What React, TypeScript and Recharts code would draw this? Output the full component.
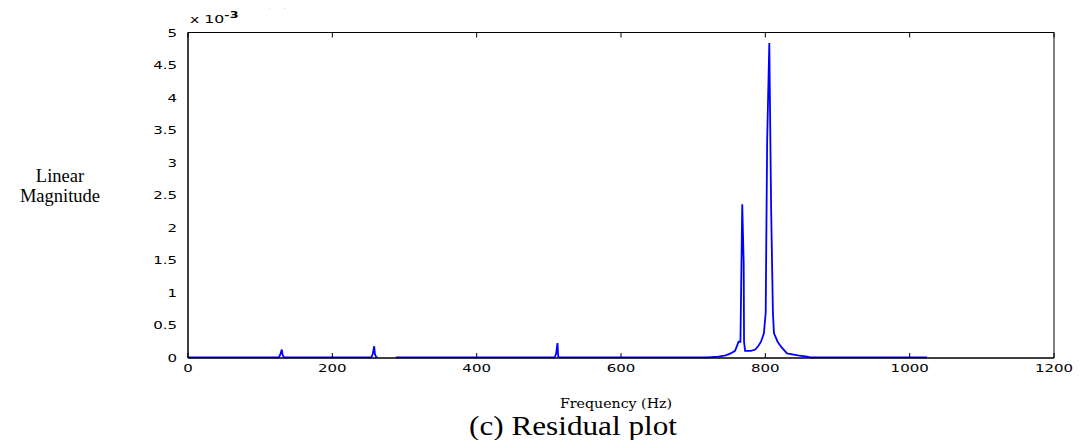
import React from 'react';
import { LineChart, Line, XAxis, YAxis } from 'recharts';

// residual spectrum, magnitude in units of 10^-3
const freqHz = [
  0, 126, 128, 130, 131, 133,
  254, 256, 258, 259, 261, 263, 264,
  287, 288, 508, 510, 512, 513, 515,
  720, 735, 745, 752, 758, 763, 765.5, 768, 770, 770.5, 772,
  780, 786, 790, 794, 798, 800.5, 802.5, 805.5, 808, 810.5,
  812, 817, 822, 830, 845, 858, 862, 1024,
];
const magnitude: (number | null)[] = [
  0.01, 0.01, 0.06, 0.13, 0.05, 0.01,
  0.01, 0.06, 0.18, 0.06, 0.01, 0.01, null,
  null, 0.01, 0.01, 0.06, 0.23, 0.02, 0.01,
  0.01, 0.02, 0.04, 0.07, 0.11, 0.25, 0.25, 2.36, 1.46, 0.25, 0.11,
  0.11, 0.13, 0.18, 0.25, 0.38, 0.69, 3.32, 4.84, 2.32, 0.69,
  0.38, 0.25, 0.17, 0.07, 0.04, 0.02, 0.01, 0.01,
];
const xTicks = [0, 200, 400, 600, 800, 1000, 1200];
const yTicks = [0, 0.5, 1, 1.5, 2, 2.5, 3, 3.5, 4, 4.5, 5];

const data = freqHz.map((hz, i) => ({ hz, mag: magnitude[i] }));

const tickFont = 'DejaVu Sans';

function MatlabTick(props: any) {
  const { x, y, payload, side } = props;
  const label = String(payload.value);
  if (side === 'bottom') {
    return (
      <text transform={`translate(${x},${y + 8}) scale(1.5,1)`} textAnchor="middle"
        fontSize={10} fontFamily={tickFont} fill="#000">{label}</text>
    );
  }
  return (
    <text transform={`translate(${x},${y + 4}) scale(1.5,1)`} textAnchor="end"
      fontSize={10} fontFamily={tickFont} fill="#000">{label}</text>
  );
}

// inner (mirrored) axes only draw the box and the inward tick marks
const noLabel = () => <g />;

export default function App() {
  return (
    <div style={{ position: 'relative', width: 1084, height: 448, margin: -8, background: '#fff' }}>
      <LineChart width={1084} height={448} data={data}
        margin={{ top: 32.5, right: 30, bottom: 0, left: 0 }}>
        <XAxis dataKey="hz" type="number" domain={[0, 1200]} ticks={xTicks} height={90}
          stroke="#000" tickLine={false} tickSize={0} tickMargin={6}
          tick={(p: any) => <MatlabTick {...p} side="bottom" />} />
        <XAxis xAxisId="bottomIn" dataKey="hz" type="number" domain={[0, 1200]} ticks={xTicks}
          height={1} mirror stroke="#000" tickSize={5} tick={noLabel} />
        <XAxis xAxisId="top" dataKey="hz" orientation="top" type="number" domain={[0, 1200]}
          ticks={xTicks} height={1} mirror stroke="#000" tickSize={5} tick={noLabel} />
        <YAxis type="number" domain={[0, 5]} ticks={yTicks} width={188}
          stroke="#000" tickLine={false} tickSize={0} tickMargin={11}
          tick={(p: any) => <MatlabTick {...p} side="left" />} />
        <YAxis yAxisId="leftIn" type="number" domain={[0, 5]} ticks={yTicks} width={1}
          mirror stroke="#000" tickSize={5} tick={noLabel} />
        <YAxis yAxisId="right" orientation="right" type="number" domain={[0, 5]}
          ticks={yTicks} width={1} mirror stroke="#000" tickSize={5} tick={noLabel} />
        <Line dataKey="mag" type="linear" stroke="#0000ff" strokeWidth={1.8}
          dot={false} connectNulls={false} isAnimationActive={false} />
      </LineChart>
      <svg width={1084} height={448} style={{ position: 'absolute', left: 0, top: 0, pointerEvents: 'none' }}>
        <text x={262} y={3} fontFamily="Liberation Serif" fontSize={26} fill="#000">
          (b) Modeling spectrum fitted by
        </text>
        <text transform="translate(190,23) scale(1.5,1)" fontSize={10.5} fontFamily={tickFont} fill="#000">
          x 10<tspan dy={-5} fontWeight="bold" fontSize={8.5}>-3</tspan>
        </text>
        <text x={60} y={182} textAnchor="middle" fontFamily="Liberation Serif" fontSize={18.5} fill="#000">Linear</text>
        <text x={60} y={202} textAnchor="middle" fontFamily="Liberation Serif" fontSize={18.5} fill="#000">Magnitude</text>
        <text x={616} y={408} textAnchor="middle" fontFamily="DejaVu Serif" fontSize={13} fill="#000"
          textLength={112} lengthAdjust="spacingAndGlyphs">Frequency (Hz)</text>
        <text x={573} y={435} textAnchor="middle" fontFamily="Liberation Serif" fontSize={27} fill="#000"
          textLength={208} lengthAdjust="spacingAndGlyphs">(c) Residual plot</text>
      </svg>
    </div>
  );
}
